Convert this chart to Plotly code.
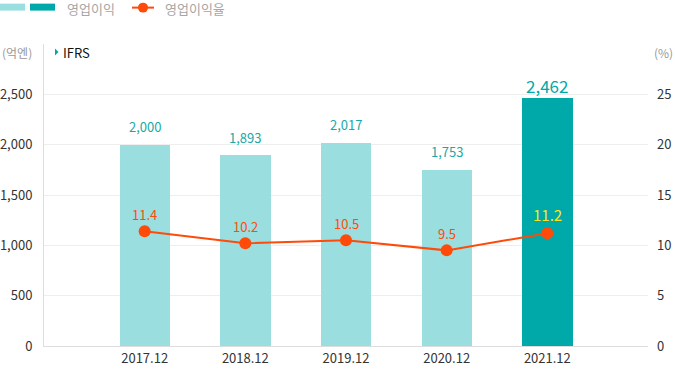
import plotly.graph_objects as go

# ---- data ----
categories = ["2017.12", "2018.12", "2019.12", "2020.12", "2021.12"]
op_profit = [2000, 1893, 2017, 1753, 2462]          # 영업이익 (억엔)
op_margin = [11.4, 10.2, 10.5, 9.5, 11.2]           # 영업이익율 (%)
left_ticks = [0, 500, 1000, 1500, 2000, 2500]
right_ticks = [0, 5, 10, 15, 20, 25]

LIGHT = "#9bdedf"
DARK = "#00a9a9"
ORANGE = "#ff4a0a"
YELLOW = "#ffe21f"
FONT = "Noto Sans CJK KR"

W, H = 675, 371
L, R, T, B = 44, 27, 43.5, 24.5
pw, ph = W - L - R, H - T - B

def px(x):
    return (x - L) / pw

def py(y):
    return (H - B - y) / ph

bar_colors = [LIGHT] * (len(categories) - 1) + [DARK]

fig = go.Figure()
fig.add_trace(go.Bar(
    x=categories, y=op_profit, marker=dict(color=bar_colors, line=dict(width=0)),
    width=0.5, showlegend=False, hoverinfo="skip"))
fig.add_trace(go.Scatter(
    x=categories, y=op_margin, yaxis="y2", mode="lines+markers",
    line=dict(color=ORANGE, width=2), marker=dict(size=12, color=ORANGE),
    showlegend=False, hoverinfo="skip"))

ann = []
for i, v in enumerate(op_profit):
    last = i == len(categories) - 1
    ann.append(dict(x=i, y=v, xref="x", yref="y", text=f"{v:,}", showarrow=False,
                    yshift=13 if last else 18,
                    font=dict(family=FONT, size=17 if last else 13, color=DARK if last else "#1aa8a8")))
for i, v in enumerate(op_margin):
    last = i == len(categories) - 1
    ann.append(dict(x=i, y=v, xref="x", yref="y2", text=f"{v}", showarrow=False,
                    yshift=19 if last else 17,
                    font=dict(family=FONT, size=15 if last else 13, color=YELLOW if last else ORANGE)))

# header texts
ann += [
    dict(x=px(65), y=py(8), xref="paper", yref="paper", text="영업이익", showarrow=False,
         xanchor="left", yanchor="middle", font=dict(family=FONT, size=13, color="#a6a6a6")),
    dict(x=px(163), y=py(8), xref="paper", yref="paper", text="영업이익율", showarrow=False,
         xanchor="left", yanchor="middle", font=dict(family=FONT, size=13, color="#a6a6a6")),
    dict(x=px(0), y=py(52), xref="paper", yref="paper", text="(억엔)", showarrow=False,
         xanchor="left", yanchor="middle", font=dict(family=FONT, size=12, color="#999999")),
    dict(x=px(61), y=py(52), xref="paper", yref="paper", text="IFRS", showarrow=False,
         xanchor="left", yanchor="middle", font=dict(family=FONT, size=13, color="#111111")),
    dict(x=px(675), y=py(52), xref="paper", yref="paper", text="(%)", showarrow=False,
         xanchor="right", yanchor="middle", font=dict(family=FONT, size=12, color="#999999")),
]

shapes = [
    dict(type="rect", xref="paper", yref="paper", x0=px(0), x1=px(25), y0=py(3), y1=py(10),
         fillcolor=LIGHT, line=dict(width=0)),
    dict(type="rect", xref="paper", yref="paper", x0=px(30), x1=px(55), y0=py(3), y1=py(10),
         fillcolor=DARK, line=dict(width=0)),
    dict(type="line", xref="paper", yref="paper", x0=px(132), x1=px(154), y0=py(7), y1=py(7),
         line=dict(color=ORANGE, width=2)),
    dict(type="circle", xref="paper", yref="paper", x0=px(138), x1=px(148), y0=py(2), y1=py(12),
         fillcolor=ORANGE, line=dict(width=0)),
    dict(type="path", xref="paper", yref="paper",
         path=f"M {px(55)} {py(48)} L {px(58.5)} {py(51.5)} L {px(55)} {py(55)} Z",
         fillcolor=DARK, line=dict(width=0)),
]

fig.update_layout(
    width=W, height=H, margin=dict(l=L, r=R, t=T, b=B, pad=0, autoexpand=False),
    paper_bgcolor="white", plot_bgcolor="white",
    font=dict(family=FONT, size=13, color="#333333"),
    showlegend=False, bargap=0, hovermode=False,
    xaxis=dict(type="category", range=[-1, 5], showline=True, linecolor="#dddddd", linewidth=1,
               showgrid=False, ticks="", automargin=False,
               tickfont=dict(size=13, color="#333333"), fixedrange=True),
    yaxis=dict(range=[0, 3000], tickvals=left_ticks, tickformat=",", showline=True,
               linecolor="#dddddd", linewidth=1, gridcolor="#eeeeee", gridwidth=1,
               zeroline=False, ticks="", ticklabelstandoff=8, automargin=False,
               tickfont=dict(size=13, color="#333333"), fixedrange=True),
    yaxis2=dict(range=[0, 30], tickvals=right_ticks, overlaying="y", side="right",
                showgrid=False, zeroline=False, showline=False, ticks="", ticklabelstandoff=8,
                automargin=False, tickfont=dict(size=13, color="#333333"), fixedrange=True),
    annotations=ann, shapes=shapes,
)

fig.write_html(
    "out.html",
    config={"displayModeBar": False, "staticPlot": True},
    post_script="document.body.style.margin='0';document.body.style.padding='0';"
                "document.body.style.overflow='hidden';",
)
